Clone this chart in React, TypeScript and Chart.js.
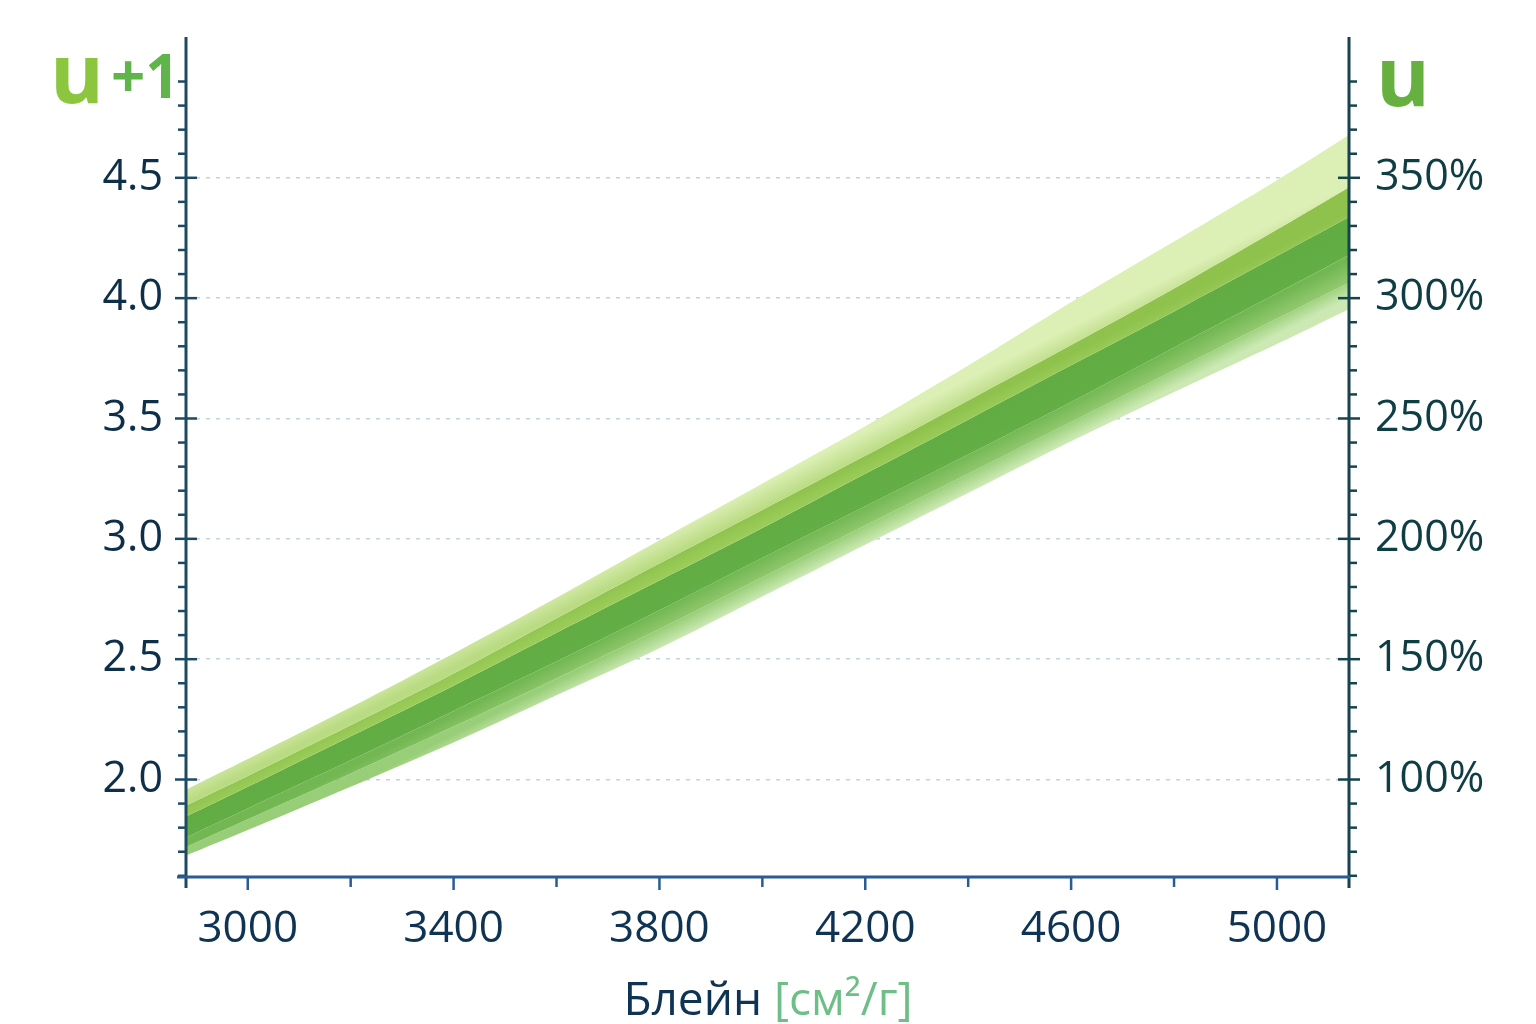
import { useEffect, useRef } from 'react';
import { Chart, registerables } from 'chart.js';

Chart.register(...registerables);

// Blaine fineness [cm²/g] at which the band edges were read
const blaine = [2880, 3000, 3200, 3400, 3600, 3800, 4000, 4200, 4400, 4600, 4800, 5000, 5140];

// band edges, in u+1 units (top to bottom)
const outerTop = [1.958, 2.085, 2.3, 2.524, 2.755, 2.994, 3.23, 3.468, 3.72, 3.983, 4.235, 4.49, 4.678];
const innerTop = [1.892, 2.015, 2.225, 2.44, 2.67, 2.898, 3.12, 3.345, 3.575, 3.805, 4.04, 4.285, 4.461];
const coreTop = [1.846, 1.97, 2.18, 2.39, 2.61, 2.827, 3.045, 3.27, 3.495, 3.721, 3.945, 4.175, 4.337];
const coreBottom = [1.759, 1.88, 2.08, 2.285, 2.49, 2.703, 2.92, 3.135, 3.35, 3.568, 3.795, 4.02, 4.179];
const innerBottom = [1.72, 1.835, 2.025, 2.22, 2.42, 2.625, 2.84, 3.055, 3.27, 3.485, 3.7, 3.915, 4.065];
const outerBottom = [1.684, 1.79, 1.97, 2.154, 2.35, 2.545, 2.76, 2.975, 3.19, 3.405, 3.61, 3.81, 3.954];

const edges = [outerTop, innerTop, coreTop, coreBottom, innerBottom, outerBottom];
// each band shades from its upper edge colour to its lower edge colour
const bandShades = [
  ['#dcefb5', '#b9db82'],
  ['#8ec24d', '#9ccd5a'],
  ['#62ac44', '#64ae46'],
  ['#72b752', '#8fc76c'],
  ['#98ce77', '#cce9b4'],
];

// axis ranges and tick labels
const yRange = [1.595, 5.085];
const yLabels = [2.0, 2.5, 3.0, 3.5, 4.0, 4.5];
const pctLabels = [100, 150, 200, 250, 300, 350];
const xRange = [2880, 5140];
const xLabels = [3000, 3400, 3800, 4200, 4600, 5000];

const FONT = "'Open Sans', 'Noto Sans', sans-serif";
const near = (a: number, b: number) => Math.abs(a - b) < 1e-6;

// gradient across the band (perpendicular to its run), anchored mid-chart
const bandFill = (i: number) => (c: any) => {
  const { chart } = c;
  const [from, to] = bandShades[i];
  const { x, y } = chart.scales;
  if (!chart.chartArea || !x || !y) return from;
  const last = blaine.length - 1;
  const dx = x.getPixelForValue(blaine[last]) - x.getPixelForValue(blaine[0]);
  const dy =
    y.getPixelForValue((edges[2][last] + edges[3][last]) / 2) -
    y.getPixelForValue((edges[2][0] + edges[3][0]) / 2);
  const len = Math.hypot(dx, dy);
  const nx = -dy / len;
  const ny = dx / len;
  const j = 6;
  const px = x.getPixelForValue(blaine[j]);
  const yA = y.getPixelForValue(edges[i][j]);
  const h = (y.getPixelForValue(edges[i + 1][j]) - yA) * (dx / len);
  const g = chart.ctx.createLinearGradient(px, yA, px + nx * h, yA + ny * h);
  g.addColorStop(0, from);
  g.addColorStop(1, to);
  return g;
};

const axisMarks = {
  id: 'axisMarks',
  afterDatasetsDraw(chart: any) {
    const { ctx, chartArea: a, scales } = chart;
    const seg = (x1: number, y1: number, x2: number, y2: number) => {
      ctx.beginPath();
      ctx.moveTo(x1, y1);
      ctx.lineTo(x2, y2);
      ctx.stroke();
    };
    ctx.save();
    ctx.lineCap = 'butt';

    // left axis
    ctx.strokeStyle = '#1d4a63';
    ctx.lineWidth = 3;
    seg(a.left, a.top, a.left, a.bottom + 11);
    ctx.lineWidth = 2.5;
    scales.y.ticks.forEach((t: any) => {
      const py = scales.y.getPixelForValue(t.value);
      if (yLabels.some((v) => near(v, t.value))) seg(a.left - 11, py, a.left + 11, py);
      else seg(a.left - 8, py, a.left, py);
    });

    // right axis
    ctx.strokeStyle = '#17434f';
    ctx.lineWidth = 3;
    seg(a.right, a.top, a.right, a.bottom + 11);
    ctx.lineWidth = 2.5;
    scales.y2.ticks.forEach((t: any) => {
      const py = scales.y2.getPixelForValue(t.value);
      if (pctLabels.some((v) => near(v, t.value))) seg(a.right - 11, py, a.right + 11, py);
      else seg(a.right, py, a.right + 8, py);
    });

    // bottom axis
    ctx.strokeStyle = '#2a5b92';
    ctx.lineWidth = 3;
    seg(a.left - 9, a.bottom, a.right + 1, a.bottom);
    ctx.lineWidth = 2.5;
    scales.x.ticks.forEach((t: any) => {
      const px = scales.x.getPixelForValue(t.value);
      const len = xLabels.some((v) => near(v, t.value)) ? 13 : 10;
      seg(px, a.bottom, px, a.bottom + len);
    });
    ctx.restore();
  },
};

export default function App() {
  const canvasRef = useRef<HTMLCanvasElement>(null);
  const chartRef = useRef<Chart | null>(null);

  useEffect(() => {
    document.body.style.margin = '0';
    document.body.style.background = '#ffffff';
    if (!canvasRef.current) return;

    const datasets = edges.map((edge, i) => ({
      data: blaine.map((x, j) => ({ x, y: edge[j] })),
      borderWidth: 0,
      pointRadius: 0,
      tension: 0.3,
      backgroundColor: i < bandShades.length ? bandFill(i) : 'transparent',
      fill: i < bandShades.length ? '+1' : false,
    }));

    chartRef.current = new Chart(canvasRef.current, {
      type: 'line',
      data: { datasets },
      plugins: [axisMarks],
      options: {
        animation: false,
        responsive: false,
        layout: { padding: { top: 37, left: 0, right: 0, bottom: 0 } },
        plugins: { legend: { display: false }, tooltip: { enabled: false } },
        scales: {
          x: {
            type: 'linear',
            min: xRange[0],
            max: xRange[1],
            border: { display: false },
            grid: { display: false, drawTicks: false },
            afterFit: (s: any) => {
              s.height = 147;
              s.paddingLeft = 0;
              s.paddingRight = 0;
            },
            ticks: {
              stepSize: 200,
              includeBounds: false,
              autoSkip: false,
              maxRotation: 0,
              padding: 26,
              color: '#0f3352',
              font: { family: FONT, size: 44 },
              callback: (v: any) => (xLabels.includes(Number(v)) ? String(v) : ''),
            },
          },
          y: {
            type: 'linear',
            position: 'left',
            min: yRange[0],
            max: yRange[1],
            border: { display: false, dash: [4, 6] },
            grid: {
              drawTicks: false,
              lineWidth: 1.5,
              color: (c: any) =>
                yLabels.some((v) => near(v, c.tick?.value)) ? '#c3d4e0' : 'transparent',
            },
            afterFit: (s: any) => {
              s.width = 186;
              s.paddingTop = 0;
              s.paddingBottom = 0;
            },
            afterBuildTicks: (s: any) => {
              s.ticks = s.ticks.filter((t: any) => t.value <= 4.9 + 1e-6);
            },
            ticks: {
              stepSize: 0.1,
              includeBounds: false,
              autoSkip: false,
              padding: 23,
              color: '#0e2f48',
              font: { family: FONT, size: 43 },
              callback: (v: any) => {
                const n = Number(v);
                return yLabels.some((l) => near(l, n)) ? n.toFixed(1) : '';
              },
            },
          },
          y2: {
            type: 'linear',
            position: 'right',
            min: (yRange[0] - 1) * 100,
            max: (yRange[1] - 1) * 100,
            border: { display: false },
            grid: { drawOnChartArea: false, drawTicks: false },
            afterFit: (s: any) => {
              s.width = 187;
              s.paddingTop = 0;
              s.paddingBottom = 0;
            },
            afterBuildTicks: (s: any) => {
              s.ticks = s.ticks.filter((t: any) => t.value <= 390 + 1e-6);
            },
            ticks: {
              stepSize: 10,
              includeBounds: false,
              autoSkip: false,
              padding: 26,
              color: '#0f3d44',
              font: { family: FONT, size: 43 },
              callback: (v: any) => (pctLabels.includes(Number(v)) ? `${v}%` : ''),
            },
          },
        },
      } as any,
    });

    return () => {
      chartRef.current?.destroy();
      chartRef.current = null;
    };
  }, []);

  return (
    <div style={{ position: 'relative', width: 1536, height: 1024, overflow: 'hidden', fontFamily: FONT }}>
      <canvas ref={canvasRef} width={1536} height={1024} />
      <div style={{ position: 'absolute', left: 50, top: 30, lineHeight: 1, whiteSpace: 'nowrap' }}>
        <span style={{ fontSize: 82, fontWeight: 700, color: '#8cc63f' }}>u</span>
      </div>
      <div
        style={{
          position: 'absolute',
          left: 111,
          top: 45,
          lineHeight: 1,
          fontSize: 60,
          fontWeight: 700,
          color: '#5fb44a',
          whiteSpace: 'nowrap',
        }}
      >
        +1
      </div>
      <div
        style={{
          position: 'absolute',
          left: 1376,
          top: 33,
          lineHeight: 1,
          fontSize: 82,
          fontWeight: 700,
          color: '#66b040',
        }}
      >
        u
      </div>
      <div
        style={{
          position: 'absolute',
          left: 0,
          width: 1536,
          top: 974,
          lineHeight: 1,
          fontSize: 46,
          textAlign: 'center',
          color: '#0f3352',
          whiteSpace: 'nowrap',
        }}
      >
        Блейн <span style={{ color: '#6dbf87' }}>[см²/г]</span>
      </div>
    </div>
  );
}
